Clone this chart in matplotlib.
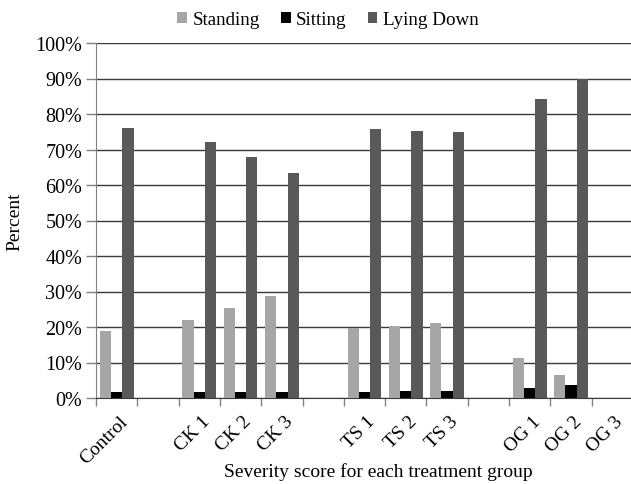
import matplotlib
matplotlib.use('Agg')
import matplotlib.pyplot as plt
import numpy as np

plt.rcParams['font.family'] = ['Liberation Serif', 'DejaVu Serif']

categories = ['Control', '', 'CK 1', 'CK 2', 'CK 3', '', 'TS 1', 'TS 2', 'TS 3',
              '', 'OG 1', 'OG 2', 'OG 3']
standing = [19.0, 0, 22.0, 25.3, 28.8, 0, 19.8, 20.4, 21.1, 0, 11.2, 6.6, 0]
sitting = [1.8, 0, 1.8, 1.8, 1.8, 0, 1.8, 2.1, 2.1, 0, 2.8, 3.7, 0]
lying = [76.0, 0, 72.0, 67.8, 63.4, 0, 75.8, 75.3, 75.0, 0, 84.2, 90.0, 0]
series_names = ['Standing', 'Sitting', 'Lying Down']
colors = ['#a6a6a6', '#000000', '#595959']

fig = plt.figure(figsize=(6.31, 4.85), dpi=100)
ax = fig.add_axes([96 / 631, 1 - 399 / 485, 537 / 631, 355 / 485])

x = np.arange(len(categories))
w = 0.273
for i, (vals, name, c) in enumerate(zip([standing, sitting, lying], series_names, colors)):
    ax.bar(x + (i - 1) * w, vals, w, color=c, label=name, zorder=3)

ax.set_xlim(-0.5, len(categories) - 0.5)
ax.set_ylim(0, 100)
ax.set_yticks(range(0, 101, 10))
ax.set_yticklabels(['%d%%' % v for v in range(0, 101, 10)], fontsize=14.5)
ax.yaxis.grid(True, color='#3a3a3a', linewidth=1, zorder=0)
ax.set_axisbelow(True)

# category boundary ticks, labels drawn rotated under each category
ax.set_xticks(np.arange(-0.5, len(categories), 1))
ax.set_xticklabels([])
ax.tick_params(axis='x', length=6, direction='out', color='#808080', width=1)
ax.tick_params(axis='y', length=7, direction='out', color='#808080', width=1, pad=3)
for i, lab in enumerate(categories):
    ax.text(i + 0.05, -4.0, lab, rotation=45, ha='right', va='top',
            rotation_mode='anchor', fontsize=14)

for s in ['top', 'right']:
    ax.spines[s].set_visible(False)
ax.spines['left'].set_color('#808080')
ax.spines['bottom'].set_color('#3a3a3a')

ax.set_ylabel('Percent', fontsize=14)
ax.yaxis.set_label_coords(-(96 - 23) / 537, 0.5)
fig.text(378 / 631, 1 - 472 / 485, 'Severity score for each treatment group',
         ha='center', va='center', fontsize=14)

fig.legend(loc='upper center', bbox_to_anchor=(0.52, 1.01), ncol=3, frameon=False,
           fontsize=13.7, handlelength=0.5, handleheight=0.5, handletextpad=0.3,
           columnspacing=1.1)

fig.savefig('out.png', dpi=100)
